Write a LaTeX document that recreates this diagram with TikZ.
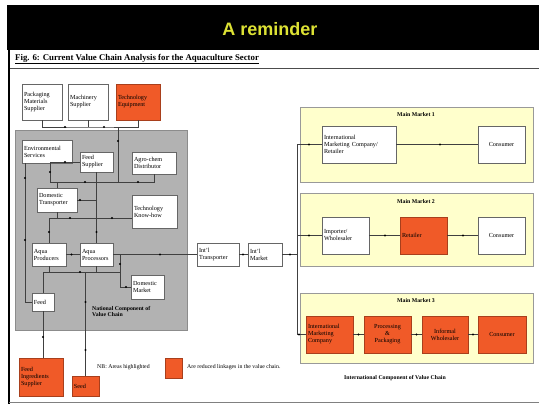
\documentclass[tikz,border=0pt]{standalone}
\usepackage{fontspec}
\setmainfont{Liberation Serif}
\newfontfamily\titlefont{Liberation Sans}
\definecolor{orn}{HTML}{F05A28}
\definecolor{ylw}{HTML}{FFFFCC}
\definecolor{gbox}{HTML}{B2B2B2}
\definecolor{ttl}{HTML}{DDE234}
\tikzset{
  bx/.style={draw=black!60, fill=white, line width=0.5pt, font=\fontsize{6.2}{7}\selectfont, align=left, inner sep=2pt, anchor=center},
  hl/.style={bx, fill=orn, draw=orn!70!black},
  bw/.style={minimum width=#1, text width=#1-4pt},
  ln/.style={draw=black!75, line width=0.5pt},
  dt/.style={circle, fill=black, inner sep=0pt, minimum size=2.4pt},
  mkt/.style={draw=black!40, fill=ylw, line width=0.8pt},
  lbl/.style={font=\fontsize{5.8}{6.6}\selectfont\bfseries, inner sep=0pt},
}
\begin{document}
\begin{tikzpicture}[x=1pt,y=-1pt]
\useasboundingbox (0,0) rectangle (539,406);
\fill[white] (0,0) rectangle (539,406);
% title bar
\fill[black] (7,5) rectangle (539,50);
\node[font=\titlefont\fontsize{18}{20}\selectfont\bfseries, text=ttl] (title) at (270,29) {A reminder};
\node[font=\fontsize{8.8}{9}\selectfont\bfseries, anchor=west, inner sep=0pt] (cap) at (15,59) {\underline{Fig. 6: Current Value Chain Analysis for the Aquaculture Sector}};
\draw[black!70, line width=0.8pt] (8,68) -- (539,68);
\draw[black, line width=2.2pt] (9,50) -- (9,404);
\draw[black!50, line width=1pt] (9,403) -- (539,403);

% national component
\draw[draw=black!45, fill=gbox, line width=0.8pt] (15,130) rectangle (187,330);

% top suppliers
\node[bx, bw=40pt, minimum height=36pt] (pack) at (42,102) {Packaging\\Materials\\Supplier};
\node[bx, bw=40pt, minimum height=36pt] (mach) at (88,102) {Machinery\\Supplier};
\node[hl, bw=44pt, minimum height=36pt] (tech) at (138,102) {Technology\\Equipment};

% boxes in gray
\node[bx, bw=50pt, minimum height=23pt] (env) at (47,151.5) {Environmental\\Services};
\node[bx, bw=33pt, minimum height=20pt] (feedsup) at (96.5,162) {Feed\\Supplier};
\node[bx, bw=44pt, minimum height=22pt] (agro) at (154,163) {Agro-chem\\Distributor};
\node[bx, bw=40pt, minimum height=24pt] (domtr) at (57,200) {Domestic\\Transporter};
\node[bx, bw=45pt, minimum height=33pt] (techkh) at (154.5,211.5) {Technology\\Know-how};
\node[bx, bw=34pt, minimum height=23pt] (aprod) at (49,254.5) {Aqua\\Producers};
\node[bx, bw=33pt, minimum height=23pt] (aproc) at (96.5,254.5) {Aqua\\Processors};
\node[bx, bw=33pt, minimum height=24pt] (dommkt) at (147.5,287) {Domestic\\Market};
\node[bx, bw=22pt, minimum height=18pt] (feed) at (43,302) {Feed};
\node[lbl, align=left, anchor=north west] (natl) at (92,306) {National Component of\\Value Chain};

% below gray
\node[hl, bw=44pt, minimum height=38pt] (fis) at (41,377) {Feed\\Ingredients\\Supplier};
\node[hl, bw=27pt, minimum height=20pt] (seed) at (85.5,386) {Seed};
\node[font=\fontsize{5.8}{6.4}\selectfont, anchor=west, inner sep=0pt] (nb1) at (97,367) {NB: Areas highlighted};
\node[hl, minimum width=17pt, minimum height=20pt] (legsq) at (173.5,368) {};
\node[font=\fontsize{5.8}{6.4}\selectfont, anchor=west, inner sep=0pt] (nb2) at (187,367) {Are reduced linkages in the value chain.};

% international middle
\node[bx, bw=42pt, minimum height=23pt] (itr) at (218,254.5) {Int'l\\Transporter};
\node[bx, bw=34pt, minimum height=23pt] (imk) at (265,254.5) {Int'l\\Market};

% main markets
\draw[mkt] (300,107) rectangle (533,182);
\draw[mkt] (300,193) rectangle (533,266);
\draw[mkt] (300,293) rectangle (533,363);
\node[lbl] (m1l) at (416,115) {Main Market 1};
\node[lbl] (m2l) at (416,202) {Main Market 2};
\node[lbl] (m3l) at (416,301) {Main Market 3};
\node[bx, bw=74pt, minimum height=37pt] (mm1a) at (359,144.5) {International\\Marketing Company/\\Retailer};
\node[bx, minimum width=47pt, minimum height=37pt, align=center] (mm1b) at (501.5,144.5) {Consumer};
\node[bx, bw=47pt, minimum height=37pt] (mm2a) at (345.5,235.5) {Importer/\\Wholesaler};
\node[hl, bw=47pt, minimum height=37pt] (mm2b) at (423.5,235.5) {Retailer};
\node[bx, minimum width=47pt, minimum height=37pt, align=center] (mm2c) at (501.5,235.5) {Consumer};
\node[hl, bw=47pt, minimum height=37pt] (mm3a) at (329.5,334.5) {International\\Marketing\\Company};
\node[hl, minimum width=47pt, minimum height=37pt, align=center] (mm3b) at (387.5,334.5) {Processing\\\&\\Packaging};
\node[hl, minimum width=46pt, minimum height=37pt, align=center] (mm3c) at (445,334.5) {Informal\\Wholesaler};
\node[hl, minimum width=48pt, minimum height=37pt, align=center] (mm3d) at (502,334.5) {Consumer};
\node[lbl] (intl) at (395,378) {International Component of Value Chain};

% coordinates
\coordinate (tbB) at (90,127);
\coordinate (tbv) at (118,127);
\coordinate (bus) at (50,182);
\coordinate (xl) at (25,0);
\coordinate (ty) at (0,218);
\coordinate (hy) at (0,272);
\coordinate (hr) at (120,272);
\coordinate (dm1) at (120,254.5);
\coordinate (vt) at (297,144.5);
\coordinate (vm) at (297,235.5);
\coordinate (vb) at (297,334.5);
\coordinate (vi) at (297,254.5);

% connectors top
\draw[ln] (pack.south) |- (tbB) -| (tech.south);
\draw[ln] (mach.south) -- (mach.south |- tbB);
\draw[ln] (tbv) -- (tbv |- bus);
% inner
\draw[ln] (env.south -| xl) |- (feed.west);
\draw[ln] (feedsup.west) -| (bus);
\draw[ln] (bus) -- (agro.south |- bus) -- (agro.south);
\draw[ln] (feedsup.south) -- (aproc.north);
\draw[ln] (domtr.east) -- (aproc.north |- domtr.east);
\draw[ln] (domtr.north) -- (domtr.north |- bus);
\draw[ln] (techkh.west |- ty) -| (aprod.north);
\draw[ln] (domtr.south) -- (domtr.south |- ty);
\draw[ln] (aprod.east) -- (aproc.west);
\draw[ln] (aproc.east) -- (itr.west);
\draw[ln] (dm1) |- (dommkt.west);
\draw[ln] (feed.north) -- (feed.north |- hy) -- (hr);
\draw[ln] (aprod.south) -- (aprod.south |- hy);
\draw[ln] (aproc.south) -- (aproc.south |- hy);
\draw[ln] (seed.north) -- (seed.north |- hy);
\draw[ln] (feed.south) -- (feed.south |- fis.north);
% international
\draw[ln] (itr.east) -- (imk.west);
\draw[ln] (imk.east) -- (vi);
\draw[ln] (vt) -- (vb);
\draw[ln] (vt) -- (mm1a.west);
\draw[ln] (vm) -- (mm2a.west);
\draw[ln] (vb) -- (mm3a.west);
\draw[ln] (mm1a.east) -- (mm1b.west);
\draw[ln] (mm2a.east) -- (mm2b.west);
\draw[ln] (mm2b.east) -- (mm2c.west);
\draw[ln] (mm3a.east) -- (mm3b.west);
\draw[ln] (mm3b.east) -- (mm3c.west);
\draw[ln] (mm3c.east) -- (mm3d.west);

% dots
\foreach \p [count=\i] in {(65,127),(104,127),(118,141),(65,162),(50,172),(25,178),(25,240),
  (85,182),(138,182),(80,200),(96.5,232),(70,218),(112,218),(49,232),(71.5,254.5),(160,254.5),
  (120,264),(126,287),(80,272),(85.5,302),(85.5,350),(43,337),(243,254.5),(290,254.5),
  (309,144.5),(440,144.5),(309,235.5),(385,235.5),(463,235.5),(299,334.5),
  (358.5,334.5),(416.5,334.5),(473,334.5)}
  \node[dt] (d\i) at \p {};
\end{tikzpicture}
\end{document}
